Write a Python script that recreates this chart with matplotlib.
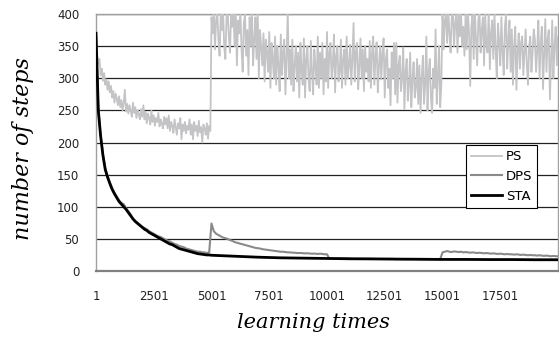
import numpy as np
import matplotlib
matplotlib.use('Agg')
import matplotlib.pyplot as plt

# PS : 50回ごとに読み取った値
ps_x = list(range(1, 20002, 50))
ps_steps = [
    348, 335, 322, 330, 305, 315, 296, 308, 290, 298, 282, 295, 278, 288, 270, 280, 262, 276, 268, 258,
    272, 255, 266, 250, 262, 282, 248, 260, 245, 258, 250, 240, 262, 246, 255, 238, 250, 244, 236, 252,
    240, 258, 236, 248, 230, 245, 238, 228, 250, 232, 242, 226, 238, 232, 246, 225, 236, 230, 222, 240,
    228, 238, 222, 242, 218, 232, 226, 215, 236, 224, 212, 230, 222, 238, 205, 228, 218, 232, 214, 226,
    220, 236, 212, 228, 205, 232, 218, 226, 210, 234, 216, 224, 200, 228, 222, 212, 230, 206, 226, 218,
    395, 370, 405, 345, 390, 405, 360, 335, 400, 375, 405, 350, 330, 395, 405, 365, 340, 400, 380, 405,
    350, 405, 320, 390, 370, 405, 345, 310, 385, 400, 335, 375, 305, 395, 350, 405, 320, 360, 395, 330,
    405, 300, 375, 350, 320, 370, 295, 360, 340, 310, 372, 285, 355, 330, 300, 365, 290, 350, 320, 280,
    368, 305, 340, 360, 275, 330, 405, 300, 345, 290, 360, 280, 320, 350, 295, 340, 270, 355, 310, 290,
    362, 270, 330, 350, 300, 280, 358, 310, 275, 345, 320, 290, 365, 285, 340, 300, 355, 275, 330, 295,
    372, 285, 340, 355, 300, 320, 368, 278, 335, 350, 295, 310, 360, 285, 330, 345, 290, 365, 300, 320,
    352, 290, 330, 386, 295, 340, 355, 283, 320, 362, 300, 345, 280, 350, 310, 330, 295, 358, 285, 340,
    365, 290, 335, 356, 278, 320, 350, 298, 340, 362, 270, 330, 345, 285, 315, 258, 340, 300, 355, 275,
    355, 262, 320, 335, 280, 300, 348, 252, 310, 330, 265, 290, 340, 255, 300, 325, 270, 285, 330, 260,
    320, 246, 300, 335, 260, 290, 365, 250, 310, 330, 270, 246, 315, 285, 376, 260, 300, 350, 255, 290,
    405, 345, 390, 400, 355, 405, 370, 340, 395, 405, 350, 385, 405, 340, 400, 365, 405, 350, 380, 335,
    400, 345, 405, 370, 288, 380, 400, 330, 405, 360, 320, 390, 405, 340, 375, 395, 320, 400, 350, 340,
    405, 314, 370, 390, 330, 400, 345, 300, 385, 360, 320, 395, 340, 305, 380, 400, 315, 360, 390, 310,
    376, 290, 350, 380, 282, 340, 370, 315, 355, 365, 305, 340, 376, 320, 290, 350, 365, 310, 340, 376,
    360, 310, 345, 390, 300, 355, 380, 283, 340, 392, 310, 360, 375, 267, 330, 390, 300, 350, 380, 320,
    365,
]

# DPS : 100回ごと
dps_x = list(range(1, 20002, 100))
dps_steps = [
    370, 252, 212, 182, 160, 148, 138, 129, 122, 116,
    110, 106, 104, 98, 93, 88, 82, 78, 75, 72,
    69, 67, 65, 62, 60, 58, 56, 54, 53, 51,
    49, 47, 46, 44, 42, 41, 39, 38, 37, 35,
    34, 33, 32, 31, 30, 30, 29, 29, 28, 29,
    74, 62, 58, 56, 54, 52, 51, 50, 48, 47,
    45, 44, 43, 42, 41, 40, 39, 38, 37, 36,
    35.5, 35, 34, 33.5, 33, 32.5, 32, 31.5, 31, 30.5,
    30, 30, 29.5, 29, 29, 28.5, 28.5, 28, 28, 28,
    27.5, 27.5, 27.5, 27, 27, 27, 26.5, 27, 26.5, 26,
    26,
] + [19.5] * 9 + [19] * 10 + [18.8] * 10 + [18.5] * 10 + [18.3] * 10 + [
    29, 30, 31, 30, 29.5, 30.5, 30, 29.5, 30, 29,
    29.5, 29, 28.5, 29, 28.5, 28, 28.5, 28, 27.5, 28,
    27.5, 27, 27.5, 27, 26.5, 27, 26.5, 26, 26.5, 26,
    26, 25.5, 26, 25.5, 25, 25.5, 25, 24.5, 25, 24.5,
    24.5, 24, 24.5, 24, 23.5, 24, 23.5, 23, 23.5, 23,
    23,
]

# STA (5001以降は1000回ごと)
sta_x = list(range(1, 5001, 100)) + list(range(5001, 20002, 1000))
sta_steps = [
    370, 250, 210, 180, 158, 146, 136, 127, 120, 114,
    108, 104, 100, 96, 91, 86, 81, 77, 74, 71,
    68, 65, 63, 60, 58, 56, 54, 52, 50, 48,
    46, 44, 42, 41, 39, 37, 35, 34, 33, 32,
    31, 30, 29, 28, 27, 26.5, 26, 25.5, 25, 25,
    24.5, 23, 21.5, 20.5, 20, 19.5, 19, 18.8, 18.5, 18.3,
    18, 18, 17.8, 17.8, 17.5, 17.5,
]

xticks = [1, 2501, 5001, 7501, 10001, 12501, 15001, 17501]
yticks = list(range(0, 401, 50))

fig = plt.figure(figsize=(5.59, 3.41), dpi=100)
ax = fig.add_axes([96 / 559, 1 - 271 / 341, 462 / 559, 257 / 341])

ax.plot(ps_x, ps_steps, color='#c4c4c6', lw=1.3, label='PS', zorder=3)
ax.plot(dps_x, dps_steps, color='#8a8a8a', lw=1.5, label='DPS', zorder=4)
ax.plot(sta_x, sta_steps, color='black', lw=2.0, label='STA', zorder=5)

ax.set_xlim(1, 20001)
ax.set_ylim(0, 400)
ax.set_xticks(xticks)
ax.set_xticklabels([str(t) for t in xticks])
ax.set_yticks(yticks)
ax.tick_params(axis='both', length=0, labelsize=8.5, colors='#222222')
ax.tick_params(axis='y', pad=12)
ax.tick_params(axis='x', pad=14)

ax.yaxis.grid(True, color='#222222', lw=0.9)
ax.set_axisbelow(True)
for side in ['left', 'right', 'top']:
    ax.spines[side].set_color('#a0a0a0')
    ax.spines[side].set_linewidth(1.0)
ax.spines['bottom'].set_color('#808080')
ax.spines['bottom'].set_linewidth(1.6)

ax.set_xlabel('learning times', family='DejaVu Serif', style='italic',
              fontsize=15)
ax.xaxis.set_label_coords(0.47, -0.165)
ax.set_ylabel('number of steps', family='DejaVu Serif', style='italic',
              fontsize=16)
ax.yaxis.set_label_coords(-0.135, 0.475)

leg = ax.legend(loc='upper left', bbox_to_anchor=(0.801, 0.49),
                borderaxespad=0, fancybox=False, fontsize=9.5,
                handlelength=2.3, handletextpad=0.3, labelspacing=0.5,
                borderpad=0.4, framealpha=1)
leg.get_frame().set_edgecolor('black')
leg.get_frame().set_linewidth(0.8)

fig.savefig('out.png', dpi=100)
